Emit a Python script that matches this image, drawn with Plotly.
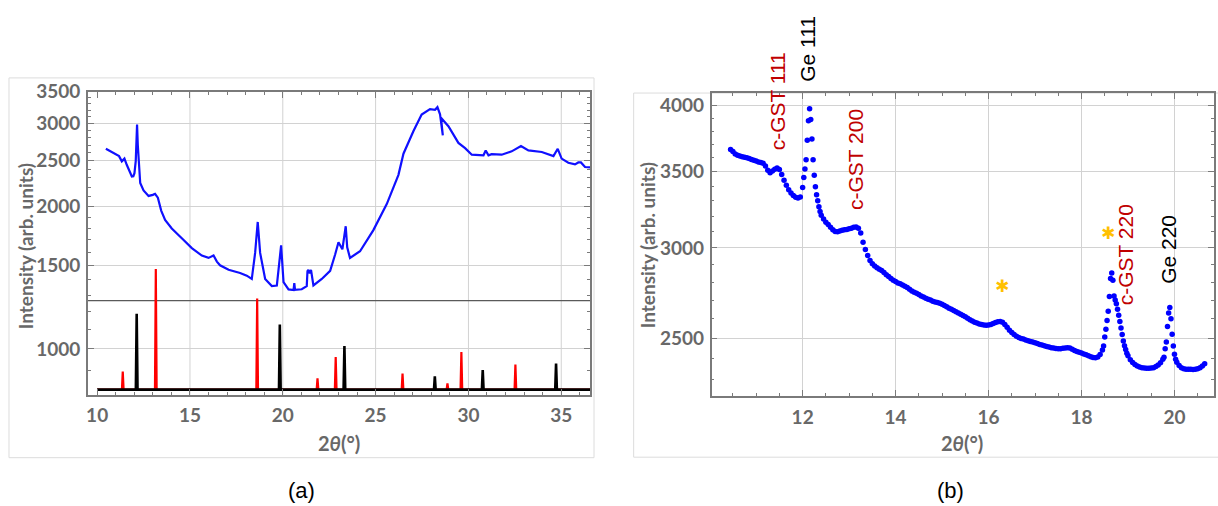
import math
import plotly.graph_objects as go

W, H = 1218, 506

# ---------------- (a) wide-range scan with reference stick patterns ----------------
scan_a_2theta = [10.47, 10.70, 10.97, 11.18, 11.33, 11.47, 11.60, 11.75, 11.87, 11.95,
                 12.01, 12.08, 12.12, 12.15, 12.19, 12.23, 12.32, 12.50, 12.77, 13.00,
                 13.12, 13.27, 13.45, 13.66, 14.02, 14.56, 15.10, 15.64, 16.00, 16.27,
                 16.45, 16.62, 17.08, 17.70, 18.06, 18.33, 18.51, 18.65, 18.78, 19.05,
                 19.41, 19.68, 19.80, 19.91, 20.04, 20.31, 20.58, 20.62, 20.66, 21.02,
                 21.29, 21.33, 21.38, 21.45, 21.52, 21.58, 21.65, 22.10, 22.55, 22.82,
                 23.00, 23.21, 23.33, 23.39, 23.47, 23.62, 24.16, 24.88, 25.60, 26.23,
                 26.50, 27.04, 27.48, 27.93, 28.20, 28.33, 28.47, 28.62, 28.52, 28.92,
                 29.46, 29.82, 30.18, 30.81, 30.93, 31.08, 31.25, 31.79, 32.33, 32.83,
                 33.23, 33.95, 34.58, 34.81, 35.02, 35.38, 35.74, 35.92, 36.06, 36.28,
                 36.55]
scan_a_counts = [2651, 2620, 2588, 2558, 2494, 2527, 2449, 2370, 2317, 2320,
                 2354, 2500, 2780, 2985, 2700, 2488, 2244, 2164, 2107, 2118,
                 2129, 2089, 1962, 1875, 1798, 1714, 1634, 1576, 1558, 1576,
                 1530, 1503, 1470, 1447, 1429, 1406, 1596, 1856, 1596, 1406,
                 1358, 1362, 1498, 1656, 1384, 1336, 1332, 1378, 1334, 1337,
                 1358, 1460, 1470, 1445, 1470, 1400, 1362, 1406, 1463, 1584,
                 1681, 1625, 1760, 1818, 1640, 1558, 1609, 1784, 2025, 2335,
                 2588, 2891, 3132, 3217, 3206, 3247, 3135, 2830, 3085, 2960,
                 2728, 2660, 2576, 2568, 2630, 2568, 2583, 2576, 2618, 2687,
                 2630, 2610, 2558, 2651, 2527, 2477, 2457, 2480, 2480, 2426,
                 2421]

# reference reflections drawn as sticks on the same log scale
gst_ref_2theta = [11.38, 13.16, 18.62, 21.87, 22.85, 26.45, 28.87, 29.62, 32.53]
gst_ref_height = [896, 1475, 1279, 866, 961, 887, 845, 985, 927]
ge_ref_2theta = [12.13, 19.84, 23.32, 28.19, 30.77, 34.72]
ge_ref_height = [1187, 1126, 1014, 875, 902, 931]
ref_baseline = 820
separator_level = 1265

# ---------------- (b) zoomed scan ----------------
scan_b_2theta = [
    10.45, 10.50, 10.55, 10.60, 10.65, 10.70, 10.75, 10.80, 10.85, 10.90,
    10.95, 11.00, 11.05, 11.10, 11.15, 11.20, 11.25, 11.30, 11.35, 11.40,
    11.45, 11.50, 11.55, 11.60, 11.65, 11.70, 11.75, 11.80, 11.85, 11.90,
    11.95, 12.00,
    12.025, 12.05, 12.075, 12.10, 12.125, 12.15, 12.175, 12.20, 12.225, 12.25,
    12.275, 12.30, 12.325, 12.35, 12.375, 12.40,
    12.45, 12.50, 12.55, 12.60, 12.65, 12.70, 12.75, 12.80, 12.85, 12.90,
    12.95, 13.00, 13.05, 13.10, 13.15, 13.20, 13.25, 13.30, 13.35, 13.40,
    13.45, 13.50, 13.55, 13.60, 13.65, 13.70, 13.75, 13.80, 13.85, 13.90,
    13.95, 14.00, 14.05, 14.10, 14.15, 14.20, 14.25, 14.30, 14.35, 14.40,
    14.45, 14.50, 14.55, 14.60, 14.65, 14.70, 14.75, 14.80, 14.85, 14.90,
    14.95, 15.00, 15.05, 15.10, 15.15, 15.20, 15.25, 15.30, 15.35, 15.40,
    15.45, 15.50, 15.55, 15.60, 15.65, 15.70, 15.75, 15.80, 15.85, 15.90,
    15.95, 16.00, 16.05, 16.10, 16.15, 16.20, 16.25, 16.30, 16.35, 16.40,
    16.45, 16.50, 16.55, 16.60, 16.65, 16.70, 16.75, 16.80, 16.85, 16.90,
    16.95, 17.00, 17.05, 17.10, 17.15, 17.20, 17.25, 17.30, 17.35, 17.40,
    17.45, 17.50, 17.55, 17.60, 17.65, 17.70, 17.75, 17.80, 17.85, 17.90,
    17.95, 18.00, 18.05, 18.10, 18.15, 18.20, 18.25, 18.30, 18.35, 18.40,
    18.45,
    18.475, 18.50, 18.525, 18.55, 18.575, 18.60, 18.625, 18.65, 18.675, 18.70,
    18.725, 18.75, 18.775, 18.80, 18.825, 18.85, 18.875, 18.90, 18.925, 18.95,
    18.975, 19.00,
    19.05, 19.10, 19.15, 19.20, 19.25, 19.30, 19.35, 19.40, 19.45, 19.50,
    19.55, 19.60, 19.65, 19.70, 19.75,
    19.775, 19.80, 19.825, 19.85, 19.875, 19.90, 19.925, 19.95, 19.975, 20.00,
    20.025, 20.05,
    20.10, 20.15, 20.20, 20.25, 20.30, 20.35, 20.40, 20.45, 20.50, 20.55,
    20.60, 20.65,
]
scan_b_counts = [
    3660, 3645, 3628, 3618, 3612, 3607, 3603, 3600, 3594, 3588,
    3582, 3576, 3570, 3565, 3560, 3540, 3510, 3492, 3505, 3518,
    3526, 3515, 3480, 3440, 3405, 3375, 3352, 3335, 3323, 3318,
    3325, 3390,
    3460, 3520, 3585, 3730, 3880, 3975, 3890, 3740, 3585, 3475,
    3395, 3340, 3300, 3260, 3230, 3205,
    3180, 3160, 3145, 3128, 3112, 3102, 3100, 3104, 3110, 3112,
    3114, 3118, 3122, 3128, 3130, 3122, 3092, 3035, 2990, 2955,
    2925, 2905, 2893, 2882, 2874, 2866, 2854, 2842, 2832, 2820,
    2810, 2803, 2795, 2790, 2783, 2777, 2770, 2760, 2750, 2743,
    2737, 2730, 2722, 2716, 2710, 2705, 2700, 2694, 2690, 2686,
    2682, 2677, 2670, 2663, 2656, 2650, 2644, 2637, 2630, 2624,
    2617, 2610, 2603, 2595, 2588, 2582, 2578, 2572, 2570, 2567,
    2566, 2567, 2570, 2575, 2580, 2584, 2586, 2582, 2570, 2555,
    2540, 2528, 2518, 2510, 2503, 2498, 2495, 2491, 2487, 2483,
    2480, 2477, 2473, 2468, 2465, 2462, 2458, 2455, 2452, 2450,
    2448, 2447, 2447, 2449, 2451, 2452, 2450, 2444, 2438, 2433,
    2430, 2426, 2421, 2417, 2412, 2408, 2404, 2403, 2406, 2418,
    2440,
    2460, 2505, 2545, 2590, 2640, 2720, 2820, 2852, 2810, 2722,
    2700, 2680, 2650, 2618, 2585, 2552, 2518, 2486, 2462, 2443,
    2425, 2412,
    2393, 2380, 2370, 2363, 2358, 2355, 2353, 2352, 2352, 2353,
    2355, 2360, 2368, 2378, 2395,
    2405, 2447, 2480, 2560, 2630, 2660, 2600, 2520, 2460, 2420,
    2395, 2381,
    2365, 2355, 2350, 2348, 2347, 2347, 2346, 2347, 2350, 2355,
    2363, 2374,
]

peak_labels = ["c-GST 111", "Ge 111", "c-GST 200", "c-GST 220", "Ge 220"]
peak_label_2theta = [11.46, 12.10, 13.14, 18.94, 19.87]
peak_label_level = [4032, 4490, 3588, 2957, 2991]
peak_label_colors = ["#c00000", "#000000", "#c00000", "#c00000", "#000000"]

star_2theta = [16.29, 18.57]
star_level = [2748, 3060]

# ---------------- styling ----------------
GRID = "#d2d2d2"
FRAME = "#7a7a7a"
LABEL_GRAY = "#686868"
TICK_FONT = dict(family="Lato", size=19, color=LABEL_GRAY, weight="bold")

a_xmin, a_xmax = 9.5, 36.55
a_ymin, a_ymax = 800, 3500
b_xmin, b_xmax = 10.04, 20.84
b_ymin, b_ymax = 2224, 4101


def stick_path(positions, heights, x_start, x_end, base, half_width=0.045):
    """Build a single polyline: a flat baseline with narrow spikes at each reflection."""
    xs, ys = [x_start], [base]
    for p, h in sorted(zip(positions, heights)):
        xs += [p - half_width, p, p + half_width]
        ys += [base, h, base]
    xs.append(x_end)
    ys.append(base)
    return xs, ys


def log_domain_frac(v, lo, hi):
    """Fractional position of value v inside a log axis spanning [lo, hi]."""
    return (math.log10(v) - math.log10(lo)) / (math.log10(hi) - math.log10(lo))


fig = go.Figure()

# separator between measured curve and reference patterns
fig.add_trace(go.Scatter(x=[a_xmin, a_xmax], y=[separator_level, separator_level],
                         mode="lines", line=dict(color="#5a5a5a", width=1.2),
                         xaxis="x", yaxis="y", hoverinfo="skip"))

gx, gy = stick_path(gst_ref_2theta, gst_ref_height, 10.0, a_xmax, ref_baseline)
fig.add_trace(go.Scatter(x=gx, y=gy, mode="lines", line=dict(color="#ff0000", width=2.2),
                         xaxis="x", yaxis="y"))
kx, ky = stick_path(ge_ref_2theta, ge_ref_height, 10.0, a_xmax, ref_baseline)
fig.add_trace(go.Scatter(x=kx, y=ky, mode="lines", line=dict(color="#000000", width=2.6),
                         xaxis="x", yaxis="y"))

fig.add_trace(go.Scatter(x=scan_a_2theta, y=scan_a_counts, mode="lines",
                         line=dict(color="#1010ff", width=2.2),
                         xaxis="x", yaxis="y"))

fig.add_trace(go.Scatter(x=scan_b_2theta, y=scan_b_counts, mode="markers",
                         marker=dict(color="#0000ff", size=5.5, line=dict(width=0)),
                         xaxis="x2", yaxis="y2"))

common = dict(showline=True, linecolor=FRAME, linewidth=1.5, mirror="ticks",
              ticks="inside", ticklen=6, tickwidth=1, tickcolor=FRAME,
              tickfont=TICK_FONT, zeroline=False, gridcolor=GRID, gridwidth=1)
minor_common = dict(ticks="inside", ticklen=3, tickwidth=1, tickcolor=FRAME, showgrid=False)

a_xticks = [10, 15, 20, 25, 30, 35]
a_yticks = [1000, 1500, 2000, 2500, 3000, 3500]
b_xticks = [12, 14, 16, 18, 20]
b_yticks = [2500, 3000, 3500, 4000]

fig.update_layout(
    width=W, height=H, margin=dict(l=0, r=0, t=0, b=0),
    paper_bgcolor="white", plot_bgcolor="white", showlegend=False,
    xaxis=dict(common, domain=[86 / W, 589 / W], range=[a_xmin, a_xmax], anchor="y",
               tickmode="array", tickvals=a_xticks, ticktext=[str(v) for v in a_xticks],
               showgrid=False, ticklabelstandoff=3,
               minor=dict(minor_common, tickmode="array",
                          tickvals=[v for v in range(10, 37) if v % 5 != 0])),
    yaxis=dict(common, domain=[1 - 392 / H, 1 - 81.7 / H], type="log",
               range=[math.log10(a_ymin), math.log10(a_ymax)], anchor="x",
               tickmode="array", tickvals=a_yticks, ticktext=[str(v) for v in a_yticks],
               showgrid=True, ticklabelstandoff=2,
               minor=dict(minor_common, tickmode="array",
                          tickvals=[v for v in range(800, 3600, 100) if v not in a_yticks])),
    xaxis2=dict(common, domain=[710.7 / W, 1213.5 / W], range=[b_xmin, b_xmax], anchor="y2",
                tickmode="array", tickvals=b_xticks, ticktext=[str(v) for v in b_xticks],
                showgrid=True, ticklabelstandoff=3,
                minor=dict(minor_common, tickmode="array",
                           tickvals=[10.5, 11, 11.5, 12.5, 13, 13.5, 14.5, 15, 15.5,
                                     16.5, 17, 17.5, 18.5, 19, 19.5, 20.5])),
    yaxis2=dict(common, domain=[1 - 393.3 / H, 1 - 83.3 / H], type="log",
                range=[math.log10(b_ymin), math.log10(b_ymax)], anchor="x2",
                tickmode="array", tickvals=b_yticks, ticktext=[str(v) for v in b_yticks],
                showgrid=True, ticklabelstandoff=2,
                minor=dict(minor_common, tickmode="array",
                           tickvals=[v for v in range(2300, 4200, 100) if v not in b_yticks])),
)

# vertical grid of panel (a): only at 15..35
shapes = []
for v in a_xticks[1:]:
    shapes.append(dict(type="line", xref="x", yref="y domain", x0=v, x1=v, y0=0, y1=1,
                       line=dict(color=GRID, width=1), layer="below"))

# light outer boxes around each panel
shapes.append(dict(type="rect", xref="paper", yref="paper",
                   x0=7 / W, x1=593 / W, y0=1 - 456.5 / H, y1=1 - 67.5 / H,
                   line=dict(color="#dcdcdc", width=1), layer="below"))
shapes.append(dict(type="rect", xref="paper", yref="paper",
                   x0=632.7 / W, x1=1.01, y0=1 - 456 / H, y1=1 - 83 / H,
                   line=dict(color="#dcdcdc", width=1), layer="below"))
fig.update_layout(shapes=shapes)

ann = []
title_font = dict(family="Lato", size=19, color=LABEL_GRAY, weight="bold")
ann.append(dict(text="Intensity (arb. units)", xref="paper", yref="paper",
                x=23 / W, y=1 - 240 / H, textangle=-90, showarrow=False,
                xanchor="center", yanchor="middle", font=title_font))
ann.append(dict(text="Intensity (arb. units)", xref="paper", yref="paper",
                x=646 / W, y=1 - 239 / H, textangle=-90, showarrow=False,
                xanchor="center", yanchor="middle", font=title_font))
for cx in (337.5, 962):
    ann.append(dict(text="2<i>θ</i>(°)", xref="paper", yref="paper",
                    x=cx / W, y=1 - 441 / H, showarrow=False,
                    xanchor="center", yanchor="middle",
                    font=dict(family="Lato", size=20, color=LABEL_GRAY, weight="bold")))

# peak assignments; vertical position via the log-axis fraction so labels may sit above the frame
for text, xv, lv, col in zip(peak_labels, peak_label_2theta, peak_label_level, peak_label_colors):
    ann.append(dict(text=text, xref="x2", yref="y2 domain", x=xv,
                    y=log_domain_frac(lv, b_ymin, b_ymax),
                    textangle=-90, showarrow=False, xanchor="center", yanchor="middle",
                    font=dict(family="Liberation Sans", size=21, color=col)))

for xv, lv in zip(star_2theta, star_level):
    ann.append(dict(text="✱", xref="x2", yref="y2 domain", x=xv,
                    y=log_domain_frac(lv, b_ymin, b_ymax), yshift=5,
                    showarrow=False, xanchor="center", yanchor="middle",
                    font=dict(family="DejaVu Sans", size=17, color="#ffc000")))

for text, cx in (("(a)", 300), ("(b)", 950)):
    ann.append(dict(text=text, xref="paper", yref="paper", x=cx / W, y=1 - 490 / H,
                    showarrow=False, xanchor="center", yanchor="middle",
                    font=dict(family="Liberation Sans", size=22, color="#000000")))

fig.update_layout(annotations=ann)

fig.write_html("out.html")
